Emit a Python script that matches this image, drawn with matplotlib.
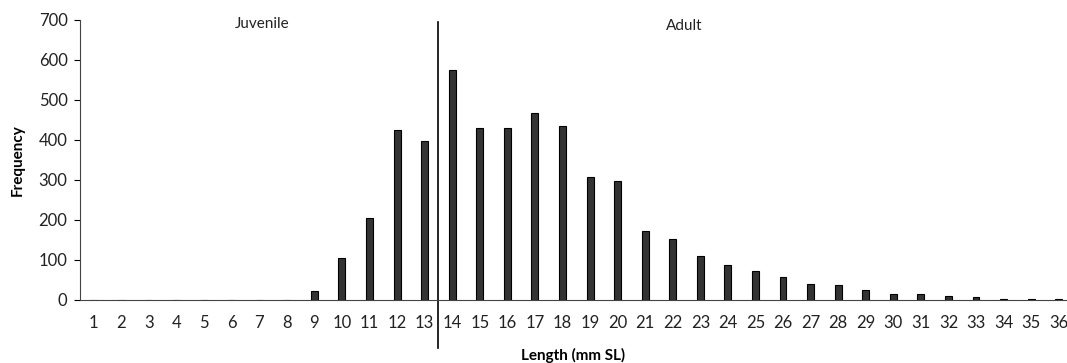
import matplotlib
matplotlib.use("Agg")
import matplotlib.pyplot as plt
import numpy as np

plt.rcParams['font.family'] = ['Lato', 'DejaVu Sans']

# length classes (mm SL) and counts
lengths = np.arange(1, 37)
freq = [0, 0, 0, 0, 0, 0, 0, 0, 21, 104, 205, 425, 398, 575, 429, 431, 467, 435,
        307, 297, 172, 153, 110, 88, 72, 58, 39, 37, 25, 14, 15, 10, 7, 1, 3, 1]
yticks = [0, 100, 200, 300, 400, 500, 600, 700]

fig = plt.figure(figsize=(10.67, 3.63), dpi=100)
ax = fig.add_axes([0.075, 0.174, 0.925, 0.771])

ax.bar(lengths, freq, width=0.25, color='#333333', edgecolor='black', linewidth=0.8)

ax.set_xlim(0.5, 36.3)
ax.set_ylim(0, 700)
ax.set_xticks(lengths)
ax.set_xticklabels([str(v) for v in lengths])
ax.set_yticks(yticks)
ax.tick_params(axis='x', length=0, pad=11, labelsize=12, labelcolor='#222222')
ax.tick_params(axis='y', length=4, direction='out', pad=5, labelsize=12, labelcolor='#222222')

for s in ['top', 'right']:
    ax.spines[s].set_visible(False)
ax.spines['left'].set_color('#444444')
ax.spines['bottom'].set_color('#444444')

ax.set_ylabel('Frequency', fontweight='bold', fontsize=11, labelpad=10)
ax.set_xlabel('Length (mm SL)', fontweight='bold', fontsize=11, labelpad=12)

# juvenile / adult divider
ax.plot([13.5, 13.5], [695, -120], color='black', linewidth=1.2, clip_on=False)
ax.text(7.1, 690, 'Juvenile', ha='center', va='center', fontsize=11, color='#222222')
ax.text(22.4, 686, 'Adult', ha='center', va='center', fontsize=11, color='#222222')

fig.savefig('out.png', dpi=100)
